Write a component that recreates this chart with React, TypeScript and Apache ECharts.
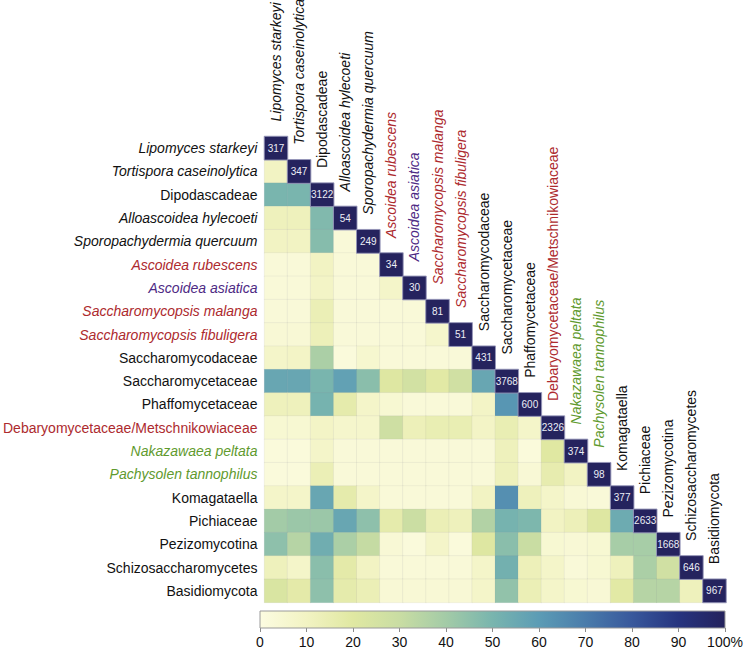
import React, { useEffect, useRef } from "react";
import * as echarts from "echarts";

const categories = [
  "Lipomyces starkeyi",
  "Tortispora caseinolytica",
  "Dipodascadeae",
  "Alloascoidea hylecoeti",
  "Sporopachydermia quercuum",
  "Ascoidea rubescens",
  "Ascoidea asiatica",
  "Saccharomycopsis malanga",
  "Saccharomycopsis fibuligera",
  "Saccharomycodaceae",
  "Saccharomycetaceae",
  "Phaffomycetaceae",
  "Debaryomycetaceae/Metschnikowiaceae",
  "Nakazawaea peltata",
  "Pachysolen tannophilus",
  "Komagataella",
  "Pichiaceae",
  "Pezizomycotina",
  "Schizosaccharomycetes",
  "Basidiomycota",
];

// k = black, r = red, p = purple, g = green ; i = italic, n = normal
const labelStyles = [
  "ki", "ki", "kn", "ki", "ki", "ri", "pi", "ri", "ri", "kn",
  "kn", "kn", "rn", "gi", "gi", "kn", "kn", "kn", "kn", "kn",
];

const diagonalCounts = [317, 347, 3122, 54, 249, 34, 30, 81, 51, 431, 3768, 600, 2326, 374, 98, 377, 2633, 1668, 646, 967];

// lower-triangle shared percentage, row i has i values (columns 0..i-1)
const sharedPercent: number[][] = [
  [],
  [10],
  [50, 50],
  [12, 12, 48],
  [10, 10, 47, 3],
  [3, 3, 10, 3, 3],
  [3, 3, 9, 3, 3, 8],
  [3, 3, 14, 3, 3, 3, 3],
  [4, 4, 13, 3, 3, 3, 3, 7],
  [8, 9, 38, 2, 6, 3, 3, 3, 3],
  [56, 56, 50, 58, 46, 21, 26, 19, 27, 56],
  [12, 12, 51, 17, 8, 5, 3, 3, 3, 9, 62],
  [5, 5, 9, 7, 7, 28, 13, 15, 15, 9, 15, 8],
  [2, 2, 8, 3, 3, 3, 3, 3, 3, 3, 12, 2, 20],
  [2, 2, 14, 3, 3, 3, 3, 3, 3, 3, 12, 4, 16, 10],
  [8, 8, 56, 17, 8, 3, 3, 3, 3, 10, 64, 12, 8, 4, 3],
  [40, 42, 42, 56, 45, 17, 29, 14, 12, 36, 51, 49, 10, 13, 21, 54],
  [45, 35, 53, 38, 31, 4, 2, 8, 2, 21, 46, 30, 5, 4, 5, 39, 39],
  [12, 8, 46, 18, 10, 3, 3, 3, 3, 8, 52, 13, 8, 3, 5, 12, 38, 27],
  [23, 18, 45, 17, 14, 4, 4, 4, 4, 8, 44, 14, 8, 5, 4, 19, 35, 35, 12],
];

const colorbarTicks = [0, 10, 20, 30, 40, 50, 60, 70, 80, 90, 100];
const paletteStops = [
  "#fcfce1", "#f2f3c3", "#e0e8a2", "#c9dda3", "#a3cba7", "#79b5ae",
  "#5c9cb5", "#4a7cab", "#38589c", "#26347f", "#24225c",
];
const diagonalColor = "#25235e";

const FONT = '"Liberation Sans", Arial, Helvetica, sans-serif';
const colorOf: Record<string, string> = { k: "#111111", r: "#ad2a2e", p: "#4e2a84", g: "#5f9a2e" };

export default function App() {
  const ref = useRef<HTMLDivElement>(null);
  useEffect(() => {
    if (!ref.current) return;
    const chart = echarts.init(ref.current, undefined, { renderer: "svg" });

    const heatData: number[][] = [];
    sharedPercent.forEach((row, i) => row.forEach((v, j) => heatData.push([j, i, v])));
    const diagData = diagonalCounts.map((c, j) => [j, j, c]);

    const rich: Record<string, any> = {};
    ["ki", "kn", "ri", "rn", "pi", "gi"].forEach((k) => {
      rich[k] = {
        color: colorOf[k[0]],
        fontStyle: k[1] === "i" ? "italic" : "normal",
        fontSize: 14,
        fontFamily: FONT,
      };
    });

    const gradStops = paletteStops.map((c, i) => ({ offset: i / (paletteStops.length - 1), color: c }));

    chart.setOption({
      animation: false,
      backgroundColor: "#ffffff",
      grid: [
        { left: 260, top: 136.5, width: 466, height: 466 },
        { left: 260, top: 611, width: 465, height: 17 },
      ],
      xAxis: [
        { type: "category", data: categories, gridIndex: 0, show: false },
        {
          type: "value",
          gridIndex: 1,
          min: 0,
          max: 100,
          interval: 10,
          axisLine: { show: false },
          axisTick: { show: true, length: 4, lineStyle: { color: "#8a8a8a" } },
          splitLine: { show: false },
          axisLabel: {
            color: "#111",
            fontSize: 14,
            fontFamily: FONT,
            margin: 7,
            formatter: (v: number) => (v === 100 ? "100%" : String(v)),
          },
        },
      ],
      yAxis: [
        {
          type: "category",
          data: categories,
          gridIndex: 0,
          inverse: true,
          axisLine: { show: false },
          axisTick: { show: false },
          splitLine: { show: false },
          axisLabel: {
            margin: 7,
            formatter: (v: string, i: number) => `{${labelStyles[i]}|${v}}`,
            rich,
          },
        },
        { type: "value", gridIndex: 1, min: 0, max: 1, show: false },
      ],
      visualMap: [
        {
          type: "continuous",
          show: false,
          min: 0,
          max: 100,
          seriesIndex: 0,
          inRange: { color: paletteStops },
        },
        {
          type: "continuous",
          show: false,
          min: 0,
          max: 10000,
          seriesIndex: 1,
          inRange: { color: [diagonalColor, diagonalColor] },
        },
      ],
      series: [
        {
          type: "heatmap",
          data: heatData,
          xAxisIndex: 0,
          yAxisIndex: 0,
          itemStyle: { borderColor: "rgba(130,130,150,0.18)", borderWidth: 0.5 },
          emphasis: { disabled: true },
        },
        {
          type: "heatmap",
          data: diagData,
          xAxisIndex: 0,
          yAxisIndex: 0,
          itemStyle: { borderColor: "rgba(150,150,185,0.9)", borderWidth: 1 },
          label: {
            show: true,
            color: "#eceef6",
            fontSize: 10,
            fontFamily: FONT,
            formatter: (p: any) => String(p.value[2]),
          },
          emphasis: { disabled: true },
        },
        {
          type: "custom",
          xAxisIndex: 0,
          yAxisIndex: 0,
          clip: false,
          data: categories.map((_, j) => [j, j]),
          renderItem: (params: any, api: any) => {
            const j = api.value(0);
            const p = api.coord([j, j]);
            const s = api.size([1, 1]);
            const st = labelStyles[j];
            return {
              type: "text",
              x: p[0],
              y: p[1] - s[1] / 2 - 15,
              rotation: Math.PI / 2,
              style: {
                text: categories[j],
                fill: colorOf[st[0]],
                font: `${st[1] === "i" ? "italic " : ""}14px ${FONT}`,
                align: "left",
                verticalAlign: "middle",
              },
            };
          },
        },
        {
          type: "custom",
          xAxisIndex: 1,
          yAxisIndex: 1,
          data: [[0, 100]],
          renderItem: (params: any, api: any) => {
            const a = api.coord([api.value(0), 0]);
            const b = api.coord([api.value(1), 1]);
            return {
              type: "rect",
              shape: { x: a[0], y: b[1], width: b[0] - a[0], height: a[1] - b[1] },
              style: {
                fill: new echarts.graphic.LinearGradient(0, 0, 1, 0, gradStops),
                stroke: "#9a9a9a",
                lineWidth: 1,
              },
            };
          },
        },
      ],
    });
    return () => chart.dispose();
  }, []);
  return (
    <div
      ref={ref}
      style={{ position: "fixed", left: 0, top: 0, width: 746, height: 651, background: "#fff" }}
    />
  );
}
